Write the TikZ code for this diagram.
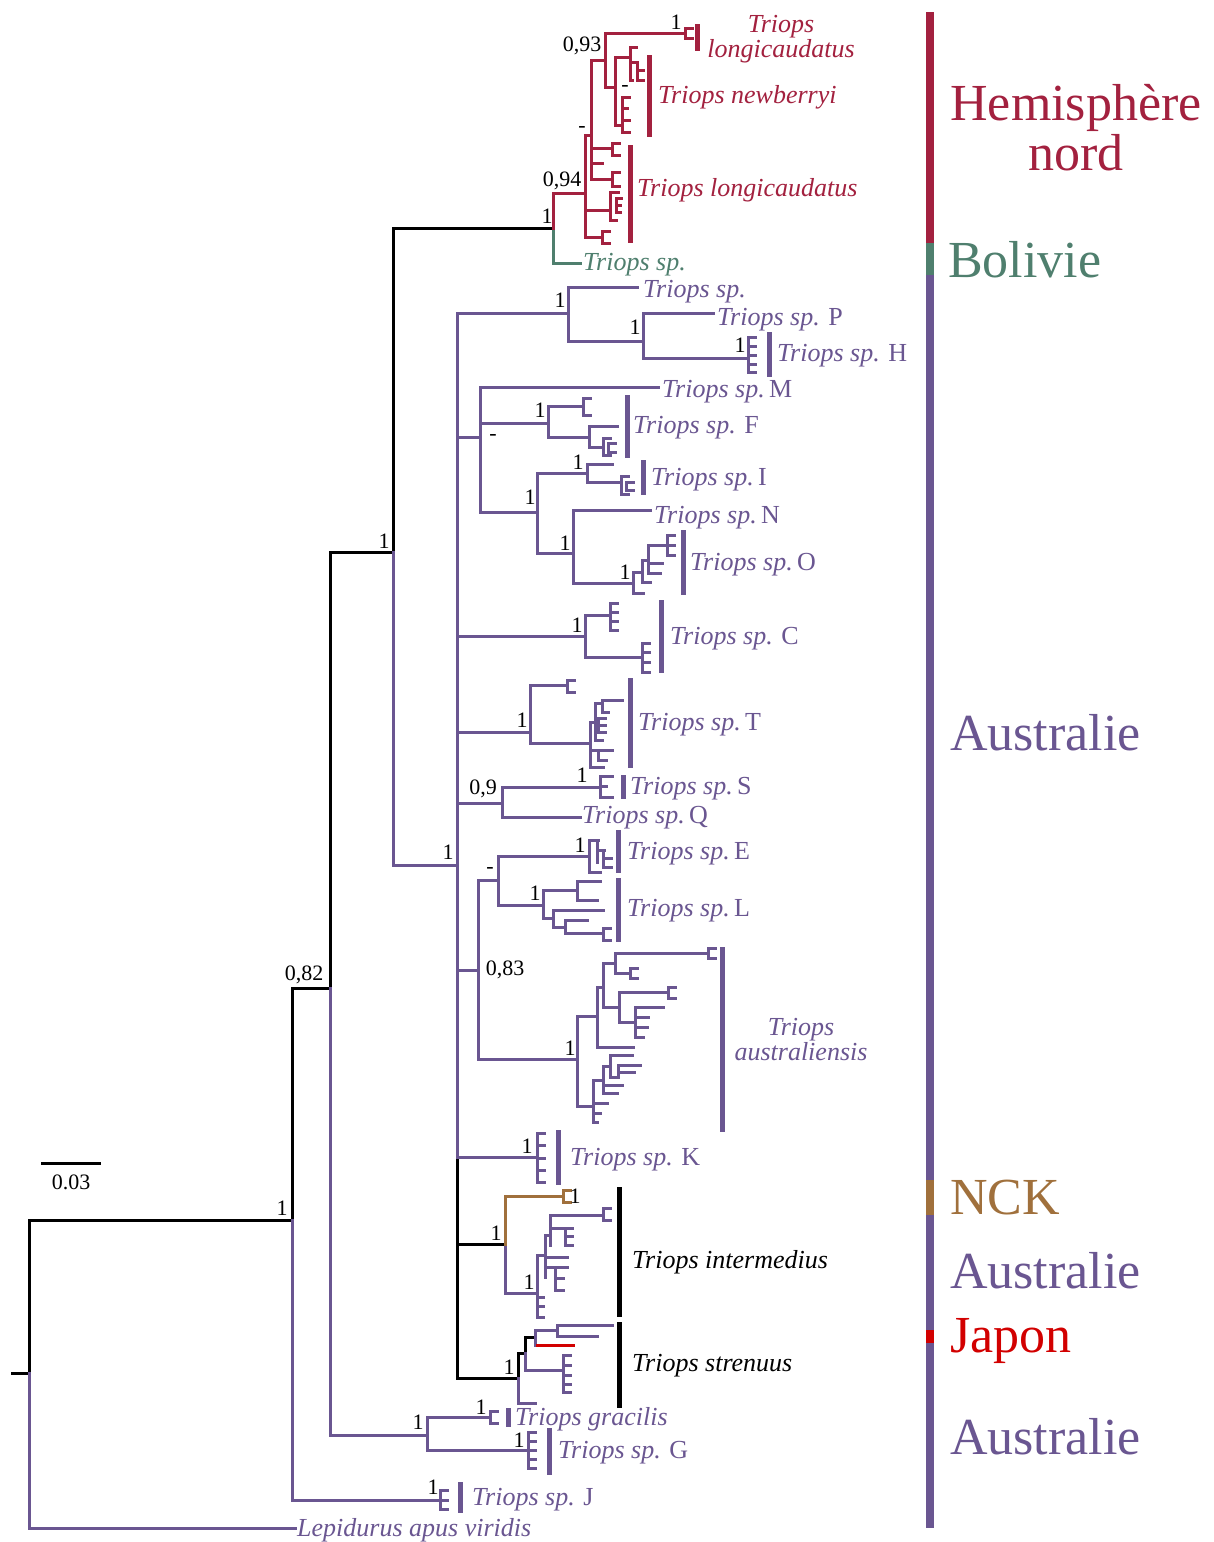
\documentclass[tikz,border=0pt]{standalone}
\usepackage{fontspec}
\setmainfont{Liberation Serif}
\definecolor{crim}{RGB}{163,33,63}
\definecolor{bolg}{RGB}{79,127,110}
\definecolor{purp}{RGB}{106,86,145}
\definecolor{brn}{RGB}{160,112,60}
\definecolor{jred}{RGB}{210,0,0}
\newcommand\hl[3]{\draw (#2,#1)--(#3,#1);}
\newcommand\vl[3]{\draw (#1,#2)--(#1,#3);}
\newcommand\cmb[4]{\draw (#1,#2)--(#1,#3); \foreach \yy in {#4} {\draw (#1,\yy)--++(7,0);}}
\begin{document}
\begin{tikzpicture}[x=1pt,y=-1pt,
  br/.style={line width=3pt,line cap=rect,line join=miter},
  clbar/.style={line width=5pt},
  rgbar/.style={line width=8pt},
  lab/.style={font=\fontsize{26}{30}\selectfont\itshape,anchor=mid west,inner sep=0pt,yshift=-6pt},
  num/.style={font=\fontsize{22}{24}\selectfont,inner sep=0pt,text=black},
  reg/.style={font=\fontsize{52}{56}\selectfont,anchor=base west,inner sep=0pt}]
\useasboundingbox (0,0) rectangle (1214,1542);
\fill[white] (0,0) rectangle (1214,1542);
% ---------------- black backbone
\begin{scope}[br,black]
\draw (12,1373)--(29,1373)--(29,1220)--(292,1220)--(292,988)--(330,988)--(330,552)--(393,552)--(393,228)--(553,228);
\draw (457,1157)--(457,1378)--(518,1378)--(518,1353)--(525,1353)--(525,1337)--(535,1337);
\hl{1244}{457}{505}
\end{scope}
% ---------------- purple
\begin{scope}[br,purp]
\draw (29,1373)--(29,1528)--(295,1528);
\draw (292,1220)--(292,1500)--(440,1500);
\cmb{440}{1490}{1509}{1490,1500,1509}
\draw (330,988)--(330,1435)--(427,1435);
\vl{427}{1417}{1450}
\hl{1417}{427}{490} \cmb{490}{1411}{1423}{1411,1423}
\hl{1450}{427}{528} \cmb{528}{1432}{1468}{1432,1441,1450,1459,1468}
\draw (393,552)--(393,865)--(457,865);
\vl{457}{313}{1157}
% H/P
\hl{313}{457}{568} \vl{568}{287}{341} \hl{287}{568}{637} \hl{341}{568}{643}
\vl{643}{313}{358} \hl{313}{643}{713} \hl{358}{643}{748}
\cmb{748}{337}{372}{337,346,355,364,372}
% M F I N O
\hl{437}{457}{480} \vl{480}{387}{512} \hl{387}{480}{658} \hl{423}{480}{548}
\vl{548}{406}{437} \hl{406}{548}{583} \cmb{583}{398}{415}{398,415}
\hl{437}{548}{589} \vl{589}{426}{447} \hl{426}{589}{617} \hl{447}{589}{603}
\cmb{603}{438}{455}{438,455} \cmb{608}{443}{452}{443,452}
\hl{512}{480}{537} \vl{537}{473}{553} \hl{473}{537}{587}
\vl{587}{464}{482} \hl{464}{587}{612} \hl{482}{587}{621}
\cmb{621}{476}{494}{476,494} \cmb{626}{482}{490}{482,490}
\hl{553}{537}{573} \vl{573}{510}{583} \hl{510}{573}{650} \hl{583}{573}{633}
\vl{633}{572}{593} \hl{593}{633}{643} \hl{572}{633}{642}
\vl{642}{560}{582} \hl{582}{642}{650} \hl{560}{642}{648}
\vl{648}{545}{573} \hl{573}{648}{660} \hl{563}{648}{662} \hl{545}{648}{667}
\cmb{667}{535}{555}{535,545,555}
% C
\hl{636}{457}{585} \vl{585}{615}{657} \hl{615}{585}{610} \cmb{610}{603}{630}{603,612,621,630}
\hl{657}{585}{642} \cmb{642}{643}{672}{643,652,662,672}
% T
\hl{732}{457}{530} \vl{530}{685}{743} \hl{685}{530}{567} \cmb{567}{680}{692}{680,692}
\hl{743}{530}{590} \vl{590}{722}{767}
\hl{722}{590}{595} \vl{595}{703}{740} \hl{703}{595}{602} \vl{602}{700}{712}
\hl{700}{602}{622} \hl{712}{602}{608}
\cmb{598}{718}{732}{718,725,732} \hl{740}{595}{602}
\hl{750}{590}{598} \vl{598}{750}{760} \hl{750}{598}{612} \hl{760}{598}{606}
\hl{767}{590}{603}
% S Q
\hl{803}{457}{502} \vl{502}{787}{817} \hl{787}{502}{600}
\vl{600}{776}{797} \hl{776}{600}{612} \hl{786}{600}{606} \hl{797}{600}{612}
\hl{817}{502}{580}
% E L
\hl{970}{457}{478} \vl{478}{880}{1059} \hl{880}{478}{498}
\vl{498}{856}{905} \hl{856}{498}{589}
\vl{589}{840}{872} \hl{840}{589}{598} \hl{872}{589}{600}
\vl{597}{840}{862} \hl{850}{597}{604} \vl{603}{850}{867} \hl{858}{603}{611} \hl{867}{603}{611}
\hl{905}{498}{543} \vl{543}{890}{918} \hl{890}{543}{577}
\vl{577}{881}{900} \hl{881}{577}{600} \hl{900}{577}{597}
\hl{918}{543}{553} \vl{553}{910}{927} \hl{910}{553}{603}
\hl{927}{553}{565} \vl{565}{920}{933} \hl{920}{565}{587} \hl{933}{565}{603}
\cmb{603}{928}{940}{928,940}
% australiensis
\hl{1059}{478}{577} \vl{577}{1016}{1106} \hl{1016}{577}{597}
\vl{597}{987}{1047} \hl{987}{597}{603} \vl{603}{963}{1007}
\hl{963}{603}{615} \vl{615}{953}{973} \hl{953}{615}{708} \cmb{708}{948}{958}{948,958}
\hl{973}{615}{630} \cmb{630}{968}{978}{968,978}
\hl{1007}{603}{619} \vl{619}{992}{1022} \hl{992}{619}{668} \cmb{668}{987}{998}{987,998}
\hl{1022}{619}{635} \vl{635}{1007}{1037} \hl{1007}{635}{663}
\hl{1017}{635}{648} \hl{1027}{635}{647} \hl{1037}{635}{643}
\hl{1047}{597}{633}
\hl{1106}{577}{593} \vl{593}{1080}{1122} \hl{1080}{593}{603}
\vl{603}{1066}{1093} \hl{1066}{603}{610} \vl{610}{1055}{1077}
\hl{1055}{610}{632} \hl{1077}{610}{618} \vl{618}{1065}{1077} \hl{1065}{618}{640} \hl{1072}{618}{634}
\hl{1085}{603}{622} \hl{1093}{603}{617}
\hl{1103}{593}{607} \hl{1113}{593}{600} \hl{1122}{593}{597}
% K
\hl{1157}{457}{537} \cmb{537}{1133}{1182}{1133,1145,1158,1170,1182}
% intermedius
\draw (505,1244)--(505,1293)--(537,1293);
\vl{537}{1255}{1317} \hl{1255}{537}{545} \vl{545}{1235}{1277}
\hl{1235}{545}{550} \vl{550}{1215}{1245}
\hl{1215}{550}{603} \cmb{603}{1208}{1220}{1208,1220}
\hl{1228}{550}{565} \cmb{565}{1228}{1245}{1228,1236,1245}
\hl{1257}{545}{567} \hl{1267}{545}{555} \vl{555}{1267}{1290} \hl{1267}{555}{567}
\hl{1278}{555}{563} \hl{1290}{555}{563}
\hl{1297}{537}{543} \hl{1306}{537}{543} \hl{1317}{537}{543}
% strenuus
\draw (518,1378)--(518,1403)--(535,1403);
\draw (525,1353)--(525,1370)--(563,1370);
\cmb{563}{1355}{1392}{1355,1365,1375,1384,1392}
\vl{535}{1330}{1345} \hl{1330}{535}{557} \vl{557}{1325}{1336}
\hl{1325}{557}{612} \hl{1336}{557}{597}
\end{scope}
\begin{scope}[br,jred]
\hl{1345}{537}{573}
\end{scope}
\begin{scope}[br,brn]
\draw (505,1244)--(505,1196)--(563,1196);
\cmb{563}{1190}{1202}{1190,1202}
\end{scope}
% ---------------- crimson / green
\begin{scope}[br,bolg]
\draw (553,228)--(553,263)--(580,263);
\end{scope}
\begin{scope}[br,crim]
\draw (553,228)--(553,193)--(585,193);
\vl{585}{135}{237} \hl{135}{585}{591} \vl{591}{60}{179} \hl{60}{591}{605}
\vl{605}{33}{87} \hl{33}{605}{685} \cmb{685}{28}{38}{28,38}
\hl{87}{605}{615} \vl{615}{57}{125}
\hl{57}{615}{630} \vl{630}{47}{80} \hl{47}{630}{636} \hl{62}{630}{637}
\vl{637}{62}{80} \hl{70}{637}{643} \hl{80}{637}{643} \hl{80}{630}{632}
\hl{125}{615}{622} \vl{622}{97}{132} \hl{97}{622}{629} \hl{108}{622}{627}
\hl{120}{622}{629} \hl{132}{622}{629}
\hl{148}{591}{612} \cmb{612}{143}{155}{143,155}
\hl{163}{591}{602}
\hl{179}{591}{612} \cmb{612}{172}{186}{172,186}
\hl{210}{585}{610} \vl{610}{192}{220} \hl{192}{610}{618} \hl{220}{610}{616}
\vl{616}{198}{212} \hl{198}{616}{621} \hl{205}{616}{620} \hl{212}{616}{620}
\hl{237}{585}{602} \cmb{602}{231}{243}{231,243}
\end{scope}
% ---------------- clade bars
\draw[clbar,crim] (697,24)--(697,51);
\draw[clbar,crim] (649,55)--(649,137);
\draw[clbar,crim] (630,145)--(630,243);
\begin{scope}[clbar,purp]
\draw (769,332)--(769,377);
\draw (627,395)--(627,458);
\draw (643,460)--(643,495);
\draw (683,530)--(683,595);
\draw (661,600)--(661,673);
\draw (630,678)--(630,768);
\draw (623,775)--(623,799);
\draw (618,830)--(618,873);
\draw (618,878)--(618,942);
\draw (722,947)--(722,1132);
\draw (558,1130)--(558,1185);
\draw (508,1408)--(508,1427);
\draw (549,1428)--(549,1475);
\draw (460,1482)--(460,1513);
\end{scope}
\draw[clbar,black] (619,1187)--(619,1317);
\draw[clbar,black] (619,1322)--(619,1408);
% ---------------- region bar
\draw[rgbar,crim] (930,12)--(930,243);
\draw[rgbar,bolg] (930,243)--(930,275);
\draw[rgbar,purp] (930,275)--(930,1180);
\draw[rgbar,brn] (930,1180)--(930,1215);
\draw[rgbar,purp] (930,1215)--(930,1330);
\draw[rgbar,jred] (930,1330)--(930,1343);
\draw[rgbar,purp] (930,1343)--(930,1528);
% scale bar
\draw[line width=3pt,black] (41,1163)--(101,1163);
\node[num] (sc) at (71,1182) {0.03};
% ---------------- support values
\node[num] (n1) at (676,22) {1};
\node[num] (n2) at (582,46) {0,93};
\node[num] (n3) at (625,88) {-};
\node[num] (n4) at (582,129) {-};
\node[num] (n5) at (562,181) {0,94};
\node[num] (n6) at (547,216) {1};
\node[num] (n7) at (560,300) {1};
\node[num] (n8) at (635,327) {1};
\node[num] (n9) at (740,345) {1};
\node[num] (n10) at (540,410) {1};
\node[num] (n11) at (493,437) {-};
\node[num] (n12) at (578,462) {1};
\node[num] (n13) at (530,497) {1};
\node[num] (n14) at (565,543) {1};
\node[num] (n15) at (625,572) {1};
\node[num] (n16) at (577,625) {1};
\node[num] (n17) at (522,720) {1};
\node[num] (n18) at (582,775) {1};
\node[num] (n19) at (483,789) {0,9};
\node[num] (n20) at (448,852) {1};
\node[num] (n21) at (580,845) {1};
\node[num] (n22) at (490,870) {-};
\node[num] (n23) at (535,893) {1};
\node[num] (n24) at (505,970) {0,83};
\node[num] (n25) at (570,1048) {1};
\node[num] (n26) at (527,1146) {1};
\node[num] (n27) at (575,1196) {1};
\node[num] (n28) at (496,1233) {1};
\node[num] (n29) at (529,1282) {1};
\node[num] (n30) at (509,1367) {1};
\node[num] (n31) at (481,1407) {1};
\node[num] (n32) at (418,1422) {1};
\node[num] (n33) at (519,1440) {1};
\node[num] (n34) at (433,1487) {1};
\node[num] (n35) at (384,541) {1};
\node[num] (n36) at (304,975) {0,82};
\node[num] (n37) at (282,1208) {1};
% ---------------- taxon labels
\node[lab,crim,anchor=mid,align=center] (t1) at (781,49) {Triops\\[-5pt]longicaudatus};
\node[lab,crim] (t2) at (658,95) {Triops newberryi};
\node[lab,crim] (t3) at (637,188) {Triops longicaudatus};
\node[lab,bolg] (t4) at (583,262) {Triops sp.};
\node[lab,purp] (t5) at (643,289) {Triops sp.};
\node[lab,purp] (t6) at (717,317) {Triops sp. \upshape P};
\node[lab,purp] (t7) at (777,353) {Triops sp. \upshape H};
\node[lab,purp] (t8) at (662,389) {Triops sp.\,\upshape M};
\node[lab,purp] (t9) at (633,425) {Triops sp. \upshape F};
\node[lab,purp] (t10) at (651,477) {Triops sp.\,\upshape I};
\node[lab,purp] (t11) at (654,515) {Triops sp.\,\upshape N};
\node[lab,purp] (t12) at (690,562) {Triops sp.\,\upshape O};
\node[lab,purp] (t13) at (670,636) {Triops sp. \upshape C};
\node[lab,purp] (t14) at (638,722) {Triops sp.\,\upshape T};
\node[lab,purp] (t15) at (630,786) {Triops sp.\,\upshape S};
\node[lab,purp] (t16) at (582,815) {Triops sp.\,\upshape Q};
\node[lab,purp] (t17) at (627,851) {Triops sp.\,\upshape E};
\node[lab,purp] (t18) at (627,908) {Triops sp.\,\upshape L};
\node[lab,purp,anchor=mid,align=center] (t19) at (801,1052) {Triops\\[-5pt]australiensis};
\node[lab,purp] (t20) at (570,1157) {Triops sp. \upshape K};
\node[lab,black] (t21) at (632,1260) {Triops intermedius};
\node[lab,black] (t22) at (632,1363) {Triops strenuus};
\node[lab,purp] (t23) at (515,1417) {Triops gracilis};
\node[lab,purp] (t24) at (558,1450) {Triops sp. \upshape G};
\node[lab,purp] (t25) at (472,1497) {Triops sp. \upshape J};
\node[lab,purp] (t26) at (297,1528) {Lepidurus apus viridis};
% ---------------- regions
\node[reg,crim,anchor=base] (r1) at (1076,120) {Hemisphère};
\node[reg,crim,anchor=base] (r2) at (1076,170) {nord};
\node[reg,bolg] (r3) at (948,277) {Bolivie};
\node[reg,purp] (r4) at (950,750) {Australie};
\node[reg,brn] (r5) at (950,1214) {NCK};
\node[reg,purp] (r6) at (950,1288) {Australie};
\node[reg,jred] (r7) at (950,1352) {Japon};
\node[reg,purp] (r8) at (950,1454) {Australie};
\end{tikzpicture}
\end{document}
